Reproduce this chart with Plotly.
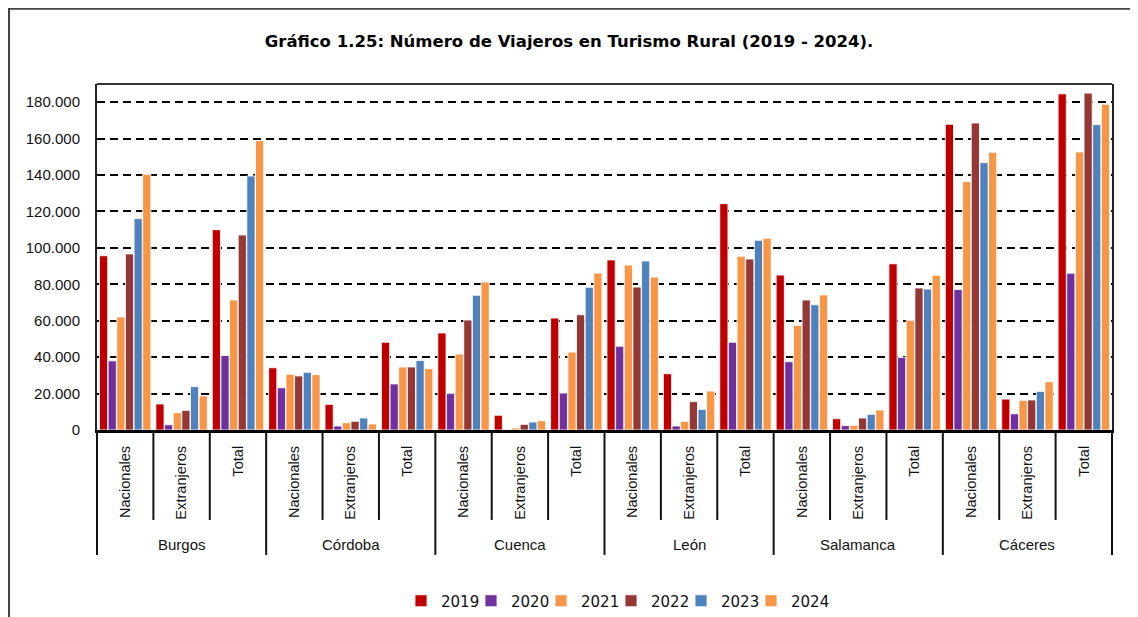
import plotly.graph_objects as go

cities = ["Burgos", "Córdoba", "Cuenca", "León", "Salamanca", "Cáceres"]
subs = ["Nacionales", "Extranjeros", "Total"]
years = ["2019", "2020", "2021", "2022", "2023", "2024"]

v2019 = [95700, 14300, 110000, 34200, 14100, 48200, 53300, 8100, 61500,
         93400, 30900, 124300, 85100, 6200, 91300, 167900, 17000, 184600]
v2020 = [38000, 2900, 40900, 23200, 2200, 25300, 20000, 300, 20300,
         46000, 2200, 48200, 37500, 2400, 39900, 77200, 8900, 86100]
v2021 = [62100, 9500, 71400, 30600, 4000, 34600, 41700, 1100, 42800,
         90600, 4800, 95400, 57500, 2600, 60200, 136400, 16300, 152700]
v2022 = [96700, 10800, 107100, 29700, 4800, 34600, 60400, 3100, 63300,
         78500, 15600, 93900, 71400, 6600, 78000, 168600, 16500, 185000]
v2023 = [116100, 23800, 139500, 31700, 6600, 38100, 74000, 4400, 78400,
         92800, 11300, 104200, 68800, 8600, 77400, 146800, 21200, 167700]
v2024 = [140400, 18700, 158900, 30400, 3300, 33700, 81300, 5100, 86200,
         84000, 21400, 105300, 74200, 11000, 85000, 152500, 26500, 178900]

series = [v2019, v2020, v2021, v2022, v2023, v2024]
colors = ["#C00000", "#7030A0", "#F79646", "#953735", "#4F81BD", "#F79646"]

xcats = [f"{c} | {s}" for c in cities for s in subs]
xlabels = [s for c in cities for s in subs]

fig = go.Figure()
for yr, vals, col in zip(years, series, colors):
    fig.add_trace(go.Bar(
        x=xcats, y=vals, name=yr,
        marker=dict(color=col, line=dict(color="rgba(255,255,255,0.85)", width=1)),
    ))
# invisible spacer entry so the last legend label is not clipped
fig.add_trace(go.Scatter(x=[xcats[0]], y=[None], mode="markers", name=" ",
                         marker=dict(color="rgba(0,0,0,0)", size=1),
                         hoverinfo="skip", showlegend=True))

ncat = len(xcats)
nsub = len(subs)
shapes = []
# divider lines under the x axis
for b in range(ncat + 1):
    xp = b / ncat
    outer = (b % nsub == 0)
    shapes.append(dict(type="line", xref="paper", yref="paper",
                       x0=xp, x1=xp, y0=0, y1=(-0.361 if outer else -0.26),
                       line=dict(color="#111111", width=2)))
# top frame line of plot area
shapes.append(dict(type="line", xref="paper", yref="paper", x0=0, x1=1, y0=1, y1=1,
                   line=dict(color="#333333", width=2)))
# outer chart frame
shapes.append(dict(type="rect", xref="paper", yref="paper",
                   x0=-0.0867, x1=1.04, y0=-0.58, y1=1.2175,
                   line=dict(color="#444444", width=2)))

annotations = []
for i, c in enumerate(cities):
    annotations.append(dict(
        x=xcats[i * nsub + nsub // 2], xref="x", y=-0.332, yref="paper",
        text=c, showarrow=False, yanchor="middle", xanchor="center",
        font=dict(family="Liberation Sans, Arial", size=15, color="#111111")))

fig.update_layout(
    width=1130, height=609,
    margin=dict(l=89, r=26, t=76, b=187, autoexpand=False),
    paper_bgcolor="white", plot_bgcolor="white",
    separators=",.",
    barmode="group", bargap=0.08, bargroupgap=0.05,
    title=dict(text="<b>Gráfico 1.25: Número de Viajeros en Turismo Rural (2019 - 2024).</b>",
               x=561 / 1130, xanchor="center", y=1 - 33 / 609, yanchor="middle",
               xref="container", yref="container",
               font=dict(family="DejaVu Sans", size=16.5, color="#000000")),
    xaxis=dict(type="category", categoryorder="array", categoryarray=xcats,
               tickmode="array", tickvals=xcats, ticktext=xlabels,
               tickangle=-90, ticks="", showgrid=False, automargin=False,
               ticklabelstandoff=7,
               showline=True, linecolor="#000000", linewidth=3, mirror=False,
               tickfont=dict(family="Liberation Sans, Arial", size=14.6, color="#111111"),
               range=[-0.5, ncat - 0.5]),
    yaxis=dict(range=[0, 190000], dtick=20000, tick0=0, tickformat=",d",
               showgrid=True, gridcolor="#000000", gridwidth=2, griddash="8px,5px",
               zeroline=False, ticks="", ticklabelstandoff=12, automargin=False,
               showline=True, linecolor="#222222", linewidth=2, mirror=True,
               tickfont=dict(family="Liberation Sans, Arial", size=15, color="#111111")),
    legend=dict(orientation="h", xref="container", yref="container",
                x=638 / 1130, xanchor="center", y=1 - 593 / 609, yanchor="middle",
                font=dict(family="DejaVu Sans", size=15, color="#111111"),
                bgcolor="rgba(255,255,255,0)",
                itemwidth=30, entrywidth=25, entrywidthmode="pixels", tracegroupgap=0),
    shapes=shapes,
    annotations=annotations,
)

fig.write_html("out.html")
